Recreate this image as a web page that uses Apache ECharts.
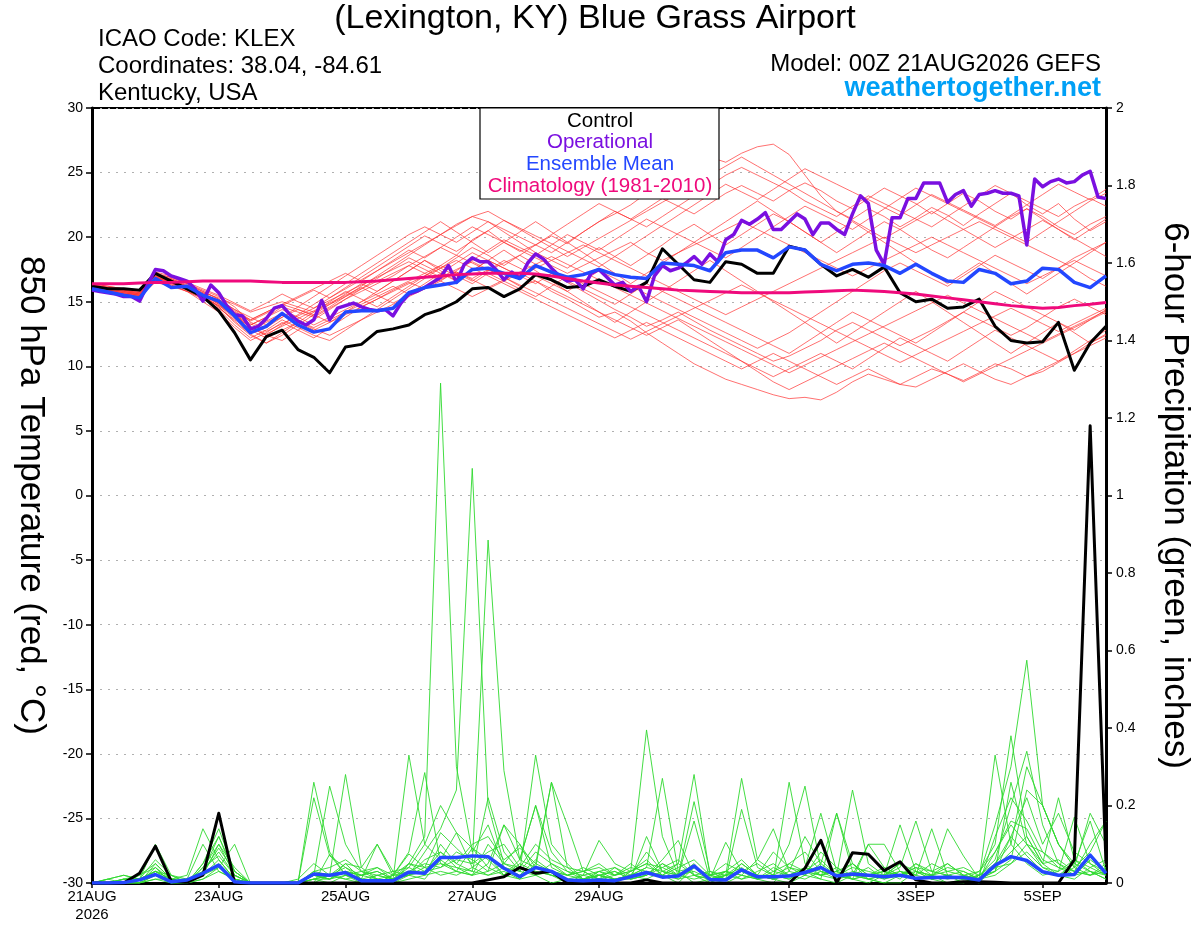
<!DOCTYPE html>
<html><head><meta charset="utf-8">
<script src="https://cdn.jsdelivr.net/npm/echarts@6/dist/echarts.min.js"></script>
<style>html,body{margin:0;padding:0;background:#fff}#c{width:1200px;height:927px}</style>
</head><body><div id="c"></div>
<script>
const FONT = '"Liberation Sans", Arial, Helvetica, sans-serif';
const tickHours = [0,48,96,144,192,264,312,360];
const tickLabels = ['21AUG\n2026','23AUG','25AUG','27AUG','29AUG','1SEP','3SEP','5SEP'];

// 6-hourly control 850 hPa temperature
const controlT = [
16.2,16.0,16.0,15.9,17.2,16.6,16.0,15.4,14.3,12.6,
10.5,12.3,12.8,11.3,10.7,9.5,11.5,11.7,12.7,12.9,
13.2,14.0,14.4,15.0,16.0,16.1,15.4,16.0,17.1,16.7,
16.1,16.2,16.7,16.2,15.8,16.5,19.1,17.9,16.7,16.5,
18.1,17.9,17.2,17.2,19.3,19.0,17.9,17.0,17.5,16.9,
17.7,15.7,15.0,15.2,14.5,14.6,15.2,13.1,12.0,11.8,
11.9,13.4,9.7,11.8,13.1];
// 3-hourly operational
const operT = [
15.9,15.8,15.7,15.6,15.4,15.4,15.05,16.3,17.5,17.4,
17.0,16.8,16.6,16.0,15.05,16.3,15.7,14.7,14.0,13.9,
12.9,13.1,13.7,14.5,14.7,14.0,13.5,13.2,13.6,15.1,
13.6,14.5,14.7,14.9,14.6,14.4,14.3,14.4,13.9,14.9,
15.6,15.8,16.1,16.5,16.9,17.8,16.5,17.9,18.4,18.1,
18.1,17.5,16.7,17.3,16.8,18.0,18.7,18.3,17.6,17.0,
16.6,16.7,16.0,17.2,17.5,16.9,16.3,16.5,15.8,16.2,
15.0,17.0,17.8,17.4,17.6,18.0,18.5,17.9,18.7,18.1,
19.8,20.2,21.3,21.0,21.4,21.9,20.6,20.6,21.2,21.8,
21.4,20.2,21.1,21.1,20.6,20.2,21.8,23.2,22.6,19.0,
17.9,21.5,21.5,23.0,23.0,24.2,24.2,24.2,22.7,23.3,
23.6,22.4,23.3,23.4,23.6,23.4,23.4,23.2,19.4,24.5,
23.9,24.3,24.5,24.2,24.3,24.8,25.1,23.1,23.0];
const meanT = [
16.0,15.75,15.5,15.3,16.8,16.1,16.2,15.5,15.05,13.9,
12.6,13.1,14.1,13.2,12.65,12.9,14.2,14.3,14.3,14.5,
15.7,16.1,16.3,16.5,17.5,17.6,17.2,16.8,17.8,17.3,
16.9,17.1,17.5,17.1,16.9,16.8,18.0,17.9,17.8,17.4,
18.8,19.0,19.0,18.4,19.25,19.0,17.9,17.4,17.9,18.0,
17.8,17.2,17.9,17.2,16.6,16.5,17.5,17.2,16.4,16.6,
17.6,17.5,16.5,16.1,17.0];
const climT = [
16.4,16.4,16.4,16.45,16.5,16.5,16.55,16.6,16.6,16.6,
16.6,16.55,16.5,16.5,16.5,16.5,16.5,16.55,16.6,16.7,
16.8,16.9,17.0,17.1,17.15,17.2,17.2,17.2,17.15,17.0,
16.8,16.6,16.45,16.3,16.2,16.1,16.0,15.9,15.85,15.8,
15.75,15.7,15.7,15.7,15.7,15.75,15.8,15.85,15.9,15.85,
15.8,15.7,15.6,15.45,15.3,15.15,15.0,14.85,14.7,14.6,
14.5,14.55,14.7,14.8,14.95];

// ensemble members, 850 hPa temperature
const ens01 = [16.3,16.1,15.9,15.7,17.0,16.8,16.3,15.8,15.2,14.0,
13.2,13.8,14.6,14.2,13.8,14.5,15.2,15.8,16.4,17.0,
17.8,18.5,19.2,18.6,19.8,20.5,19.6,18.9,19.4,20.1,
19.5,20.4,21.2,21.8,22.5,23.4,24.1,24.8,25.6,26.2,
25.8,26.5,27.0,27.2,26.4,24.8,23.2,22.0,21.4,22.2,
21.6,20.8,21.5,22.3,21.7,20.9,21.8,22.6,23.4,22.5,
21.8,22.6,21.4,20.5,21.2];
const ens02 = [16.0,15.8,15.6,15.4,16.5,16.2,15.8,15.0,14.2,13.0,
12.0,12.6,13.4,12.8,12.2,13.0,13.8,14.6,15.2,15.9,
16.5,16.0,16.8,17.3,16.8,17.5,16.9,16.2,16.6,15.8,
15.2,14.5,13.8,14.2,13.5,12.6,11.8,11.0,10.2,9.6,
9.0,8.6,8.2,7.8,7.5,7.6,7.4,8.0,8.8,9.4,
9.0,8.6,9.2,9.8,9.4,8.9,9.5,10.2,9.8,9.2,
9.6,10.3,11.0,11.8,12.5];
const ens03 = [16.4,16.2,16.0,15.8,17.2,16.9,16.4,15.9,15.4,14.6,
13.4,13.0,13.8,14.4,13.9,14.6,15.4,16.2,17.0,17.8,
18.6,19.4,20.2,21.0,21.6,21.2,20.4,19.6,18.8,18.2,
17.6,18.4,19.2,18.5,17.8,18.6,19.4,20.3,21.0,20.2,
19.4,20.2,21.0,21.8,21.2,20.4,19.6,18.8,19.6,20.4,
21.2,20.6,19.8,19.0,18.4,19.2,20.0,20.8,21.6,22.2,
21.4,20.6,19.8,20.6,21.4];
const ens04 = [16.1,15.9,15.7,15.5,16.9,16.7,16.2,15.6,14.8,13.8,
12.8,13.4,14.0,13.5,13.0,13.6,14.2,14.8,15.4,16.0,
16.6,17.2,17.8,17.2,16.6,17.4,18.0,18.6,17.9,17.2,
16.5,15.8,15.1,14.4,13.8,13.1,13.6,14.2,13.5,12.8,
12.2,11.6,11.0,10.4,10.8,11.4,12.0,12.8,13.4,12.8,
12.2,11.6,12.2,12.8,13.5,14.2,13.6,13.0,12.4,13.0,
13.8,14.6,15.2,14.6,14.0];
const ens05 = [16.2,16.0,15.8,15.6,17.1,16.6,16.1,15.6,15.0,14.2,
13.6,14.2,14.8,14.4,14.0,14.8,15.6,16.4,15.8,16.6,
17.4,18.2,17.6,18.4,19.2,18.6,17.8,18.6,19.4,20.2,
21.0,21.8,22.6,22.0,21.4,22.2,23.0,22.4,21.8,22.6,
23.4,24.0,23.4,22.8,23.6,24.2,23.6,22.8,22.2,23.0,
23.8,23.2,22.6,21.8,22.6,23.4,22.8,22.0,21.4,22.2,
21.6,20.8,20.2,21.0,21.6];
const ens06 = [15.9,15.7,15.5,15.3,16.6,16.4,16.0,15.4,14.6,13.4,
12.4,11.8,12.6,13.4,14.2,15.0,15.8,15.2,14.6,15.4,
16.2,17.0,17.8,18.6,18.0,17.4,18.2,17.6,17.0,16.4,
15.8,16.6,17.4,16.8,16.2,15.6,15.0,14.4,13.8,13.2,
12.6,12.0,11.4,12.0,12.6,13.4,14.2,15.0,15.8,16.6,
17.4,18.0,17.4,16.8,16.2,17.0,17.8,18.6,18.0,17.4,
16.8,17.6,18.4,19.0,19.6];
const ens07 = [16.3,16.1,15.9,15.7,17.0,16.8,16.2,15.7,15.3,14.8,
14.2,14.6,15.0,14.6,14.2,14.8,15.4,16.0,16.6,17.2,
17.8,17.2,16.6,17.4,18.2,19.0,19.8,19.2,18.6,19.4,
20.2,19.6,19.0,19.8,20.6,21.4,20.8,20.2,19.6,19.0,
18.4,19.2,20.0,20.8,21.6,22.4,21.8,21.2,20.6,21.4,
22.2,23.0,23.8,23.2,22.6,22.0,21.4,20.8,20.2,19.6,
20.4,21.2,22.0,22.8,23.4];
const ens08 = [16.0,15.8,15.6,15.4,16.7,16.4,15.9,15.3,14.4,13.2,
12.2,12.8,13.6,13.0,12.4,12.0,12.8,13.6,14.4,15.2,
16.0,16.8,17.6,17.0,16.4,17.2,16.6,16.0,15.4,16.2,
17.0,16.4,15.8,15.2,14.6,14.0,13.4,12.8,12.2,11.6,
11.0,10.4,9.8,9.2,9.8,10.4,11.0,10.4,9.8,10.6,
11.4,12.2,11.6,11.0,10.4,11.2,12.0,12.8,12.2,11.6,
11.0,10.4,11.2,12.0,12.8];
const ens09 = [16.2,16.0,15.8,15.5,16.8,16.6,16.1,15.6,15.1,14.4,
13.8,13.2,13.8,14.6,15.4,16.2,17.0,17.8,18.6,19.4,
20.2,20.8,20.2,19.6,20.4,21.2,20.6,20.0,19.4,18.8,
19.6,20.4,21.2,22.0,21.4,20.8,21.6,22.4,23.2,24.0,
24.8,25.4,24.8,24.2,23.6,22.8,22.2,21.6,22.4,23.2,
22.6,22.0,21.4,20.8,21.6,22.4,23.2,24.0,23.4,22.8,
22.2,21.6,22.4,23.0,22.4];
const ens10 = [16.1,15.9,15.7,15.5,16.9,16.6,16.0,15.5,14.8,13.9,
13.0,12.4,12.0,12.8,13.6,14.4,15.2,16.0,16.8,17.6,
18.4,17.8,17.2,16.6,17.4,18.2,17.6,17.0,16.4,17.2,
16.6,16.0,15.4,14.8,15.6,16.4,15.8,15.2,14.6,14.0,
13.4,12.8,12.2,11.6,11.0,11.8,12.6,13.4,14.2,13.6,
13.0,12.4,11.8,12.6,13.4,14.2,15.0,15.8,15.2,14.6,
14.0,13.4,12.8,13.6,14.4];
const ens11 = [16.0,15.8,15.6,15.4,16.6,16.3,15.8,15.2,14.5,13.6,
12.8,12.2,12.8,13.4,12.8,13.4,14.0,14.6,15.2,15.8,
16.4,17.0,17.6,18.2,17.6,17.0,16.4,15.8,15.2,14.6,
14.0,13.4,12.8,12.2,12.8,13.4,12.8,12.2,11.6,11.0,
10.4,9.8,10.4,11.0,10.4,9.8,9.2,8.6,9.2,9.8,
9.2,8.6,8.4,9.0,9.6,10.2,9.6,9.0,8.6,9.2,
9.8,10.4,11.0,11.6,12.2];
const ens12 = [16.3,16.1,15.9,15.7,17.1,16.9,16.4,15.8,15.2,14.4,
13.6,14.2,14.8,15.4,16.0,16.6,17.2,16.6,17.4,18.2,
19.0,18.4,19.2,20.0,20.8,20.2,19.6,19.0,18.4,17.8,
17.2,17.8,18.4,19.0,19.6,18.8,18.2,18.8,19.4,20.0,
20.6,21.2,20.6,20.0,19.4,18.8,18.2,17.6,17.0,17.6,
18.2,18.8,19.4,20.0,19.4,18.8,18.2,17.6,17.0,16.4,
17.0,17.6,18.2,17.6,17.0];
const ens13 = [16.2,16.0,15.8,15.6,16.9,16.5,16.0,15.5,14.9,14.0,
13.2,13.8,14.4,13.8,13.2,13.8,14.4,15.0,15.6,16.2,
15.6,16.4,17.2,18.0,18.8,18.2,17.6,17.0,17.6,18.2,
18.8,19.4,18.8,18.2,17.6,17.0,16.4,15.8,15.2,14.6,
14.0,14.6,15.2,15.8,16.4,17.0,17.6,18.2,18.8,19.4,
20.0,19.4,18.8,19.4,20.0,20.6,21.2,20.6,20.0,19.4,
18.8,18.2,17.6,16.8,16.2];
const ens14 = [15.9,15.7,15.5,15.3,16.6,16.3,15.8,15.3,14.7,13.9,
13.1,12.5,13.1,13.7,14.3,14.9,15.5,16.1,15.5,14.9,
15.5,16.1,16.7,17.3,16.7,16.1,16.7,17.3,17.9,18.5,
17.9,17.3,16.7,16.1,15.5,14.9,14.3,13.7,13.1,12.5,
11.9,11.3,10.7,10.1,9.5,10.1,10.7,11.3,11.9,12.5,
13.1,13.7,14.3,14.9,15.5,14.9,14.3,13.7,13.1,12.5,
11.9,12.5,13.1,13.7,14.3];
const ens15 = [16.4,16.2,16.0,15.8,17.3,17.0,16.5,16.0,15.5,14.9,
14.3,14.9,15.6,15.0,14.5,15.3,16.1,16.9,17.7,18.5,
19.3,20.1,19.5,18.9,19.7,20.5,21.3,20.7,20.1,19.5,
18.9,18.3,17.7,18.5,19.3,20.1,20.9,21.7,22.5,23.3,
24.1,23.5,22.9,23.7,24.5,25.3,24.7,24.1,23.5,22.9,
22.3,21.7,22.5,23.3,22.7,22.1,21.5,20.9,21.7,22.5,
23.3,24.1,23.5,22.9,23.7];
const ens16 = [16.1,15.9,15.7,15.5,16.8,16.5,16.0,15.4,14.7,13.7,
12.9,13.5,14.1,13.5,12.9,12.4,13.0,13.6,14.2,14.8,
15.4,16.0,16.6,16.0,15.4,16.0,16.6,17.2,16.6,16.0,
15.4,14.8,14.2,13.6,13.0,12.4,13.0,13.6,12.8,12.0,
11.2,10.4,9.6,8.8,8.2,8.8,9.4,10.0,10.6,11.2,
11.8,11.2,10.6,10.0,9.4,8.8,9.4,10.0,10.6,11.2,
11.8,12.4,13.0,13.6,14.2];
const ens17 = [16.2,16.0,15.8,15.6,17.0,16.7,16.2,15.7,15.0,14.0,
13.0,12.4,13.2,14.0,14.8,15.6,16.4,17.2,18.0,18.8,
19.6,20.4,21.2,20.4,19.6,18.8,19.6,20.4,21.2,20.4,
19.6,18.8,18.0,17.2,16.4,17.2,18.0,18.8,19.6,20.4,
21.2,22.0,22.8,22.0,21.2,20.4,19.6,20.4,21.2,20.4,
19.6,18.8,18.0,17.2,16.4,17.2,18.0,17.2,16.4,15.6,
16.4,17.2,18.0,18.8,19.6];
const ens18 = [16.0,15.8,15.6,15.4,16.7,16.5,16.0,15.5,14.6,13.5,
12.5,11.8,12.4,13.2,14.0,13.4,14.2,15.0,15.8,16.6,
17.4,18.2,17.4,16.6,17.4,18.2,19.0,18.2,17.4,16.6,
15.8,15.0,14.2,13.4,14.2,15.0,15.8,16.6,17.4,18.2,
17.4,16.6,15.8,15.0,14.2,13.4,12.6,11.8,12.6,13.4,
14.2,15.0,15.8,15.0,14.2,13.4,12.6,11.8,11.0,11.8,
12.6,13.4,12.6,11.8,12.4];
const ens19 = [16.3,16.1,15.9,15.6,16.9,16.7,16.1,15.6,15.0,14.3,
13.5,14.1,14.7,15.3,15.9,15.3,16.0,16.7,17.4,18.1,
18.8,19.5,20.2,20.9,21.6,22.0,21.3,20.6,19.9,19.2,
18.5,19.2,19.9,20.6,21.3,22.0,22.7,23.4,24.1,24.8,
25.5,26.2,25.5,24.8,24.1,23.4,22.7,22.0,21.3,20.6,
19.9,20.6,21.3,22.0,21.3,20.6,19.9,19.2,19.9,20.6,
21.3,20.6,19.9,19.2,18.5];
const ens20 = [16.1,15.9,15.7,15.5,16.8,16.6,16.1,15.5,14.9,14.1,
13.3,12.7,13.3,13.9,14.5,15.1,15.7,16.3,16.9,17.5,
18.1,17.5,16.9,17.5,18.1,17.5,16.9,16.3,15.7,15.1,
14.5,13.9,13.3,12.7,12.1,12.7,13.3,13.9,14.5,15.1,
15.7,16.3,15.7,15.1,14.5,13.9,13.3,12.7,12.1,11.5,
10.9,10.3,10.9,11.5,12.1,12.7,13.3,13.9,14.5,13.9,
13.3,12.7,13.3,13.9,14.5];

// 6-hour precipitation (inches)
const controlP = [
0,0,0,0.025,0.095,0.005,0.002,0.02,0.18,0,
0,0,0,0,0,0,0,0,0,0,
0,0,0,0,0,0.008,0.016,0.04,0.025,0.03,
0,0,0,0,0,0.008,0,0,0,0,
0,0,0,0,0,0.038,0.11,0,0.078,0.074,
0.032,0.055,0.008,0,0,0.003,0.003,0.002,0,0,
0,0,0.06,1.18,0.05];
const meanP = [
0,0,0.001,0.008,0.022,0.003,0.008,0.025,0.046,0.003,
0,0,0,0,0.023,0.02,0.027,0.006,0.006,0.006,
0.028,0.025,0.066,0.066,0.07,0.068,0.038,0.016,0.04,0.03,
0.008,0.006,0.008,0.006,0.016,0.027,0.015,0.018,0.044,0.009,
0.008,0.034,0.016,0.016,0.018,0.027,0.04,0.018,0.023,0.02,
0.016,0.02,0.012,0.014,0.015,0.014,0.008,0.046,0.068,0.058,
0.029,0.02,0.022,0.072,0.025];
const pcp01 = [0,0,0.01,0.02,0.05,0.01,0,0.03,0.08,0.02,
0,0,0,0,0.03,0.02,0.05,0.01,0,0.02,
0.05,0.12,1.29,0.3,0.08,0.15,0.04,0.02,0.06,0.03,
0,0.01,0.02,0,0.03,0.05,0.02,0,0.04,0.01,
0,0.02,0.01,0,0.05,0.03,0.01,0,0.02,0.01,
0,0,0.03,0.02,0,0,0.01,0.08,0.15,0.1,
0.04,0.02,0.05,0.03,0.01];
const pcp02 = [0,0,0,0.01,0.1,0.02,0,0.05,0.12,0.03,
0,0,0,0,0.26,0.08,0.02,0,0.02,0.01,
0.02,0.08,0.14,0.24,1.07,0.2,0.05,0.1,0.02,0,
0.01,0,0.03,0.04,0.01,0.02,0.06,0.11,0.02,0,
0.03,0.06,0.02,0.01,0,0.02,0.08,0.04,0.01,0,
0.02,0.05,0.02,0.01,0,0.01,0,0.12,0.22,0.16,
0.08,0.04,0.02,0.06,0.03];
const pcp03 = [0,0.01,0.02,0.01,0.03,0.01,0.02,0.14,0.06,0.01,
0,0,0,0,0.02,0.25,0.1,0.03,0.01,0,
0.05,0.04,0.13,0.09,0.05,0.885,0.29,0.06,0.04,0.02,
0,0.02,0.01,0,0.02,0.04,0.27,0.03,0,0.01,
0.02,0.01,0.03,0.05,0.02,0.01,0.03,0.02,0.05,0.01,
0,0.02,0.04,0.01,0.02,0,0.02,0.05,0.1,0.3,
0.2,0.1,0.04,0.02,0.03];
const pcp04 = [0,0,0,0.02,0.04,0,0.01,0.03,0.12,0.02,
0,0,0,0.01,0.05,0.02,0.28,0.04,0.1,0.03,
0.02,0.06,0.08,0.04,0.02,0.03,0.15,0.06,0.2,0.08,
0.03,0.02,0.11,0.05,0.03,0.395,0.12,0.02,0.05,0,
0.02,0.05,0.02,0.08,0.04,0.02,0.05,0.18,0.03,0.01,
0.02,0.03,0.01,0.02,0.05,0.02,0.01,0.04,0.08,0.12,
0.05,0.02,0.04,0.18,0.1];
const pcp05 = [0,0,0.01,0.01,0.06,0.02,0,0.02,0.1,0.04,
0,0,0,0,0.02,0.01,0.03,0.02,0.04,0.01,
0.33,0.1,0.06,0.13,0.04,0.07,0.02,0.05,0.03,0.02,
0.01,0,0.02,0.01,0.02,0.08,0.03,0.05,0.02,0.01,
0.03,0.02,0.06,0.14,0.03,0.12,0.05,0.02,0.01,0.02,
0.03,0.01,0.05,0.02,0.03,0.04,0.02,0.15,0.3,0.575,
0.2,0.1,0.04,0.08,0.16];
const pcp06 = [0,0,0,0,0.02,0.01,0,0.04,0.07,0.02,
0,0,0,0,0.22,0.07,0.04,0.01,0,0.02,
0.08,0.285,0.05,0.03,0.09,0.04,0.02,0.01,0.05,0.26,
0.04,0.01,0.02,0.03,0.01,0.02,0.05,0.02,0.21,0.03,
0.01,0.19,0.04,0.02,0.01,0.03,0.02,0.04,0.02,0.01,
0.02,0.04,0.16,0.03,0.02,0.01,0.03,0.1,0.38,0.12,
0.05,0.22,0.06,0.03,0.02];
const pcp07 = [0,0.01,0,0.01,0.03,0,0.01,0.02,0.05,0.01,
0,0,0,0,0.01,0.02,0.01,0.02,0.03,0.01,
0.04,0.02,0.1,0.05,0.03,0.22,0.08,0.03,0.33,0.1,
0.05,0.01,0.03,0.02,0.04,0.03,0.02,0.05,0.28,0.02,
0.01,0.03,0.02,0.01,0.26,0.05,0.02,0.03,0.01,0.1,
0.04,0.02,0.03,0.01,0.02,0.03,0.01,0.33,0.1,0.05,
0.02,0.03,0.17,0.05,0.02];
const pcp08 = [0,0,0,0,0.01,0,0,0.01,0.04,0.1,
0,0,0,0,0,0.074,0.02,0.01,0.1,0.02,
0.075,0.04,0.02,0.03,0.02,0.05,0.15,0.1,0.04,0.26,
0.15,0.03,0.01,0.04,0.02,0.01,0.03,0.02,0.16,0.01,
0.105,0.03,0.01,0.02,0.1,0.25,0.04,0.02,0.24,0.05,
0.02,0.15,0.03,0.01,0.02,0.01,0,0.05,0.12,0.07,
0.03,0.02,0.01,0.04,0.06];
const pcp09 = [0,0,0.01,0,0.04,0.01,0,0.02,0.06,0.01,
0,0,0,0,0.02,0.01,0.02,0.01,0.02,0.03,
0.04,0.1,0.2,0.13,0.09,0.06,0.02,0.06,0.2,0.04,
0.02,0.03,0.01,0.02,0.03,0.05,0.04,0.02,0.03,0.01,
0.02,0.27,0.06,0.03,0.02,0.04,0.18,0.03,0.02,0.1,
0.1,0.03,0.02,0.14,0.02,0.01,0.02,0.06,0.2,0.34,
0.15,0.05,0.02,0.03,0.01];
const pcp10 = [0,0,0,0.01,0.02,0,0,0.03,0.09,0.03,
0,0,0,0,0.01,0.01,0.05,0.04,0.01,0,
0.02,0.01,0.06,0.03,0.02,0.1,0.05,0.03,0.02,0.05,
0.03,0.01,0.02,0.01,0.01,0.12,0.03,0.01,0.04,0.02,
0.01,0.05,0.02,0.01,0.03,0.02,0.01,0.18,0.05,0.02,
0.03,0.02,0.01,0.02,0.14,0.07,0.01,0.03,0.06,0.24,
0.2,0.1,0.05,0.16,0.03];
const pcp11 = [0,0.01,0.02,0.01,0.03,0.02,0.01,0.02,0.04,0.01,
0,0,0,0,0.01,0.02,0.01,0,0.01,0.02,
0.02,0.03,0.04,0.06,0.05,0.08,0.1,0.04,0.03,0.02,
0.01,0.02,0.03,0.01,0.02,0.03,0.02,0.04,0.06,0.02,
0.03,0.02,0.01,0.04,0.02,0.03,0.02,0.01,0.03,0.02,
0.01,0.03,0.02,0.05,0.03,0.02,0.01,0.04,0.05,0.1,
0.08,0.05,0.03,0.02,0.04];
const pcp12 = [0,0,0,0,0.05,0.01,0,0.04,0.1,0.02,
0,0,0,0,0.03,0.04,0.06,0.03,0.02,0.01,
0.05,0.03,0.08,0.05,0.1,0.12,0.06,0.09,0.05,0.03,
0.02,0.04,0.02,0.03,0.01,0.02,0.05,0.03,0.04,0.02,
0.05,0.03,0.02,0.02,0.04,0.03,0.06,0.02,0.04,0.03,
0.02,0.05,0.03,0.02,0.04,0.03,0.01,0.03,0.12,0.22,
0.1,0.18,0.08,0.05,0.03];
const pcp13 = [0,0,0,0,0.02,0,0,0.01,0.03,0.01,
0,0,0,0,0.01,0,0.02,0.03,0.04,0.02,
0.03,0.05,0.04,0.08,0.06,0.03,0.05,0.04,0.1,0.06,
0.04,0.03,0.05,0.02,0.03,0.06,0.02,0.01,0.02,0.03,
0.02,0.04,0.01,0.03,0.05,0.08,0.03,0.01,0.02,0.04,
0.01,0.02,0.04,0.03,0.05,0.02,0.03,0.08,0.16,0.14,
0.06,0.04,0.03,0.1,0.16];
const pcp14 = [0,0,0.01,0.01,0.03,0.01,0.01,0.1,0.03,0.01,
0,0,0,0,0.02,0.01,0.03,0.02,0.01,0,
0.01,0.02,0.03,0.02,0.04,0.02,0.03,0.01,0.02,0.03,
0.02,0.01,0.02,0.01,0.02,0.04,0.03,0.02,0.01,0.02,
0.03,0.01,0.02,0.01,0.02,0.04,0.03,0.02,0.01,0.02,
0.03,0.02,0.01,0.02,0.01,0.02,0.01,0.02,0.05,0.08,
0.04,0.03,0.06,0.04,0.02];
const pcp15 = [0,0,0,0,0.01,0.01,0,0.05,0.14,0.03,
0,0,0,0,0,0.02,0.04,0.02,0.03,0.01,
0.02,0.04,0.05,0.04,0.03,0.02,0.04,0.03,0.08,0.05,
0.02,0.03,0.04,0.02,0.05,0.02,0.04,0.06,0.02,0.01,
0.02,0.03,0.05,0.02,0.01,0.04,0.02,0.03,0.05,0.02,
0.04,0.02,0.05,0.03,0.02,0.01,0.02,0.03,0.26,0.1,
0.05,0.06,0.03,0.02,0.05];

const tempMembers = [ens01,ens02,ens03,ens04,ens05,ens06,ens07,ens08,ens09,ens10,
  ens11,ens12,ens13,ens14,ens15,ens16,ens17,ens18,ens19,ens20];
const pcpMembers = [pcp01,pcp02,pcp03,pcp04,pcp05,pcp06,pcp07,pcp08,pcp09,pcp10,
  pcp11,pcp12,pcp13,pcp14,pcp15];

const COL = {member:'rgba(255,50,50,0.78)', pmember:'#2fd92f', control:'#000000',
  oper:'#7a0fe0', mean:'#2347ff', clim:'#ef0a7c', site:'#00a0f6'};

const at6 = a => a.map((v,i)=>[i*6, v]);
const at3 = a => a.map((v,i)=>[i*3, v]);
const line = (data, yi, color, width, z) => ({type:'line', data, yAxisIndex:yi, symbol:'none',
  silent:true, z, lineStyle:{color, width, join:'round'}, emphasis:{disabled:true}});

const series = [];
tempMembers.forEach(m => series.push(line(at6(m), 0, COL.member, 0.9, 2)));
pcpMembers.forEach(m => series.push(line(at6(m), 1, COL.pmember, 0.9, 2)));
series.push(line(at6(controlP), 1, COL.control, 3, 3));
series.push(line(at6(meanP), 1, COL.mean, 3.5, 4));
series.push(line(at6(controlT), 0, COL.control, 3, 3));
series.push(line(at3(operT), 0, COL.oper, 3.5, 4));
series.push(line(at6(meanT), 0, COL.mean, 3.5, 5));
series.push(line(at6(climT), 0, COL.clim, 3, 6));

const txt = (text, x, y, size, color, align, weight) => ({type:'text', x, y, z:100, silent:true,
  style:{text, fill:color, fontSize:size, fontFamily:FONT, fontWeight:weight||'normal',
  align:align, verticalAlign:'middle'}});

const chart = echarts.init(document.getElementById('c'), null, {renderer:'canvas'});
chart.setOption({
  animation:false,
  backgroundColor:'#fff',
  grid:{left:92, right:94, top:108, bottom:44, show:true, borderColor:'#000', borderWidth:2},
  xAxis:{type:'value', min:0, max:384,
    axisLine:{show:true, onZero:false, lineStyle:{color:'#000', width:3}},
    axisTick:{show:true, customValues:tickHours, length:5, lineStyle:{color:'#000', width:1.5}},
    axisLabel:{customValues:tickHours, color:'#000', fontSize:15, fontFamily:FONT, margin:5, lineHeight:18,
      formatter:v => { const k = tickHours.indexOf(v); return k >= 0 ? tickLabels[k] : ''; }},
    splitLine:{show:false}},
  yAxis:[
    {type:'value', min:-30, max:30, interval:5, position:'left',
      name:'850 hPa Temperature (red, °C)', nameLocation:'middle', nameRotate:-90, nameGap:44,
      nameTextStyle:{fontSize:35, color:'#000', fontFamily:FONT},
      axisLine:{show:true, onZero:false, lineStyle:{color:'#000', width:3}},
      axisTick:{show:true, length:6, lineStyle:{color:'#000', width:1.5}},
      axisLabel:{color:'#000', fontSize:14, fontFamily:FONT, margin:9},
      splitLine:{show:true, lineStyle:{color:'#b0b0b0', type:[2,6], width:1.2}}},
    {type:'value', min:0, max:2, interval:0.2, position:'right',
      name:'6-hour Precipitation (green, inches)', nameLocation:'middle', nameRotate:-90, nameGap:51,
      nameTextStyle:{fontSize:35, color:'#000', fontFamily:FONT},
      axisLine:{show:true, onZero:false, lineStyle:{color:'#000', width:3}},
      axisTick:{show:true, length:6, lineStyle:{color:'#000', width:1.5}},
      axisLabel:{color:'#000', fontSize:14, fontFamily:FONT, margin:10},
      splitLine:{show:false}}
  ],
  series,
  graphic:[
    txt('(Lexington, KY) Blue Grass Airport', 595, 19, 34, '#000', 'center'),
    txt('ICAO Code: KLEX', 98, 39, 24, '#000', 'left'),
    txt('Coordinates: 38.04, -84.61', 98, 66, 24, '#000', 'left'),
    txt('Kentucky, USA', 98, 93, 24, '#000', 'left'),
    txt('Model: 00Z 21AUG2026 GEFS', 1101, 64, 24, '#000', 'right'),
    txt('weathertogether.net', 1101, 89, 27, COL.site, 'right', 'bold'),
    {type:'rect', z:90, silent:true, shape:{x:480, y:108, width:239, height:91},
      style:{fill:'#fff', stroke:'#000', lineWidth:1.2}},
    txt('Control', 600, 121, 20.5, '#000', 'center'),
    txt('Operational', 600, 142, 20.5, COL.oper, 'center'),
    txt('Ensemble Mean', 600, 164, 20.5, COL.mean, 'center'),
    txt('Climatology (1981-2010)', 600, 186, 20.5, COL.clim, 'center')
  ]
});
</script></body></html>
